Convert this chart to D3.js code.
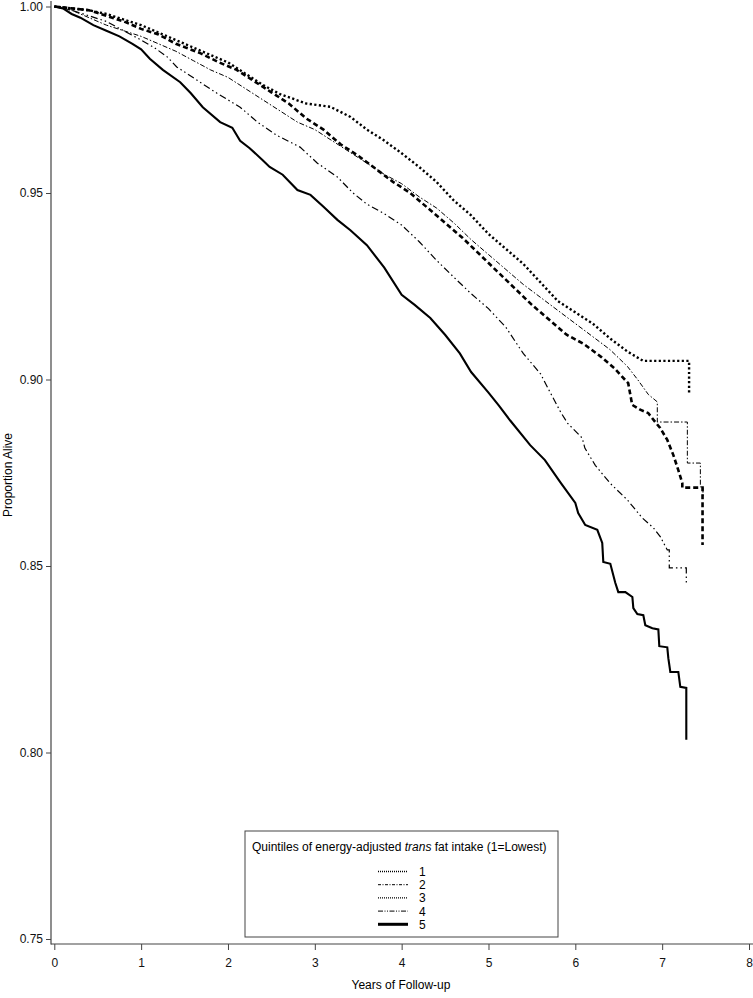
<!DOCTYPE html>
<html><head><meta charset="utf-8">
<script src="https://cdn.jsdelivr.net/npm/d3@7"></script>
<style>
body{margin:0;background:#fff;}
svg text{font-family:"Liberation Sans",Arial,sans-serif;}
</style></head>
<body><svg id="c" width="753" height="998"></svg>
<script>
// ---- data (tail steps given as corner points) ----
const seriesNames = ["1","2","3","4","5"];
const legendTitle = "Quintiles of energy-adjusted ";
const xTicks = [0,1,2,3,4,5,6,7,8];
const yTicks = [0.75,0.80,0.85,0.90,0.95,1.00];

const t1 = [0,0.2,0.4,0.6,0.8,1.0,1.2,1.4,1.6,1.8,2.0,2.2,2.4,2.6,2.72,2.9,3.18,3.41,3.6,3.79,3.98,4.2,4.4,4.6,4.8,5.0,5.2,5.4,5.6,5.8,6.0,6.2,6.4,6.6,6.78,7.31,7.31];
const v1 = [1.0,0.9995,0.999,0.998,0.9965,0.995,0.993,0.991,0.989,0.987,0.985,0.982,0.979,0.9765,0.9755,0.974,0.9731,0.9704,0.967,0.9642,0.961,0.957,0.953,0.948,0.944,0.939,0.935,0.931,0.926,0.921,0.918,0.915,0.911,0.9075,0.905,0.905,0.896];

const t2 = [0,0.2,0.4,0.6,0.8,1.0,1.2,1.4,1.6,1.8,2.0,2.2,2.4,2.6,2.8,3.0,3.2,3.4,3.6,3.8,4.0,4.2,4.4,4.6,4.8,5.0,5.2,5.4,5.6,5.8,6.0,6.2,6.4,6.6,6.72,6.84,6.944,6.944,7.29,7.29,7.44,7.44,7.47,7.47];
const v2 = [1.0,0.999,0.997,0.995,0.9935,0.992,0.990,0.988,0.9855,0.983,0.981,0.978,0.975,0.972,0.969,0.967,0.964,0.961,0.958,0.955,0.9525,0.949,0.946,0.942,0.9375,0.9335,0.9295,0.9255,0.922,0.9185,0.915,0.9115,0.908,0.9035,0.8999,0.896,0.894,0.8886,0.8886,0.8776,0.8776,0.8712,0.8712,0.8685];

const t3 = [0,0.2,0.4,0.6,0.8,1.0,1.2,1.4,1.68,1.9,2.1,2.3,2.5,2.7,2.9,3.1,3.3,3.5,3.7,3.9,4.1,4.3,4.5,4.7,4.9,5.1,5.3,5.5,5.7,5.9,6.1,6.3,6.45,6.609,6.655,6.747,6.839,6.92,6.977,7.059,7.128,7.186,7.232,7.232,7.465,7.465];
const v3 = [1.0,0.9995,0.999,0.9975,0.996,0.994,0.9925,0.990,0.9875,0.985,0.983,0.980,0.977,0.974,0.970,0.967,0.963,0.960,0.9565,0.953,0.950,0.946,0.942,0.938,0.9335,0.929,0.9245,0.920,0.916,0.912,0.9095,0.906,0.903,0.899,0.8932,0.8919,0.891,0.8886,0.887,0.8838,0.8798,0.8757,0.8722,0.871,0.871,0.8556];

const t4 = [0,0.2,0.4,0.6,0.8,1.0,1.15,1.3,1.41,1.64,1.87,2.14,2.34,2.56,2.83,3.03,3.26,3.44,3.6,3.79,4.0,4.2,4.4,4.62,4.8,5.0,5.2,5.4,5.6,5.7,5.83,5.91,6.08,6.11,6.23,6.40,6.60,6.77,6.90,6.98,7.059,7.082,7.082,7.278,7.278];
const v4 = [1.0,0.999,0.9975,0.996,0.9935,0.991,0.989,0.9865,0.9838,0.9803,0.9768,0.973,0.969,0.9655,0.9623,0.958,0.9543,0.950,0.947,0.9446,0.9414,0.937,0.932,0.927,0.923,0.919,0.914,0.907,0.9015,0.897,0.8913,0.8883,0.8843,0.8816,0.877,0.8722,0.8677,0.8629,0.8602,0.8578,0.8543,0.8543,0.8495,0.8495,0.8454];

const t5 = [0,0.1,0.2,0.3,0.45,0.6,0.75,0.9,1.0,1.1,1.25,1.45,1.57,1.71,1.91,2.05,2.14,2.25,2.4,2.48,2.63,2.8,2.95,3.1,3.26,3.41,3.6,3.8,4.0,4.15,4.33,4.5,4.67,4.8,5.0,5.12,5.25,5.48,5.65,5.826,6.0,6.033,6.114,6.253,6.31,6.322,6.403,6.46,6.495,6.576,6.657,6.668,6.714,6.783,6.806,6.887,6.956,6.967,7.059,7.071,7.094,7.186,7.209,7.278,7.278];
const v5 = [1.0,0.9995,0.998,0.997,0.995,0.9935,0.992,0.990,0.9885,0.986,0.983,0.9797,0.9768,0.973,0.969,0.9675,0.964,0.962,0.9588,0.957,0.9549,0.9508,0.9495,0.9463,0.9428,0.940,0.936,0.930,0.9227,0.920,0.9165,0.912,0.907,0.902,0.8965,0.893,0.889,0.8824,0.8784,0.8725,0.8669,0.8642,0.861,0.8597,0.8562,0.8511,0.8506,0.8455,0.843,0.843,0.8417,0.8387,0.8371,0.8368,0.8341,0.8333,0.833,0.8285,0.8282,0.8253,0.8216,0.8216,0.8176,0.8173,0.8034];

const times = [t1,t2,t3,t4,t5];
const values = [v1,v2,v3,v4,v5];

// ---- styles ----
const plotStyle = [
  {w:2.4, dash:"2.2,2.4"},
  {w:1, dash:"5,2,1.5,2"},
  {w:2.6, dash:"5,3"},
  {w:1.2, dash:"7,3,1.5,3,1.5,3"},
  {w:2.1, dash:null}
];
const legStyle = [
  {w:1.4, dash:"1,1"},
  {w:1, dash:"3,1.5,1,1.5"},
  {w:1.4, dash:"1,1"},
  {w:1, dash:"5,1.5,1,1.5,1,1.5"},
  {w:3, dash:null}
];

const svg = d3.select("#c");
const x = d3.scaleLinear().domain([0,8]).range([54.3,749]);
const y = d3.scaleLinear().domain([0.75,1.0]).range([939,6.5]);
const axisCol = "#444";

svg.append("line").attr("x1",51).attr("x2",51).attr("y1",1).attr("y2",944.5)
  .attr("stroke",axisCol).attr("stroke-width",1.2);
svg.append("line").attr("x1",51).attr("x2",753).attr("y1",944).attr("y2",944)
  .attr("stroke",axisCol).attr("stroke-width",1.2);

const ya = svg.append("g").attr("transform","translate(51,0)")
  .call(d3.axisLeft(y).tickValues(yTicks).tickFormat(d3.format(".2f")).tickSize(5).tickPadding(3));
ya.select(".domain").remove();
ya.selectAll("line").attr("stroke",axisCol);
ya.selectAll("text").attr("font-size",12).attr("fill","#111").attr("font-family","Liberation Sans, Arial, sans-serif");

const xa = svg.append("g").attr("transform","translate(0,944)")
  .call(d3.axisBottom(x).tickValues(xTicks).tickFormat(d3.format("d")).tickSize(6).tickPadding(8));
xa.select(".domain").remove();
xa.selectAll("line").attr("stroke",axisCol);
xa.selectAll("text").attr("font-size",12).attr("fill","#111").attr("font-family","Liberation Sans, Arial, sans-serif");

svg.append("text").attr("x",401).attr("y",989).attr("text-anchor","middle")
  .attr("font-size",12).text("Years of Follow-up");
svg.append("text").attr("transform","translate(12,475) rotate(-90)").attr("text-anchor","middle")
  .attr("font-size",12).text("Proportion Alive");

const line = d3.line().x(d=>x(d[0])).y(d=>y(d[1])).curve(d3.curveLinear);
seriesNames.forEach((n,i)=>{
  const pts = times[i].map((t,j)=>[t, values[i][j]]);
  svg.append("path").datum(pts).attr("d",line).attr("fill","none")
    .attr("stroke","#000").attr("stroke-width",plotStyle[i].w)
    .attr("stroke-linejoin","miter")
    .attr("stroke-dasharray",plotStyle[i].dash);
});

const lg = svg.append("g");
lg.append("rect").attr("x",245).attr("y",831).attr("width",313).attr("height",106)
  .attr("fill","#fff").attr("stroke",axisCol).attr("stroke-width",1);
const tt = lg.append("text").attr("x",252).attr("y",851).attr("font-size",12);
tt.append("tspan").text(legendTitle);
tt.append("tspan").attr("font-style","italic").text("trans");
tt.append("tspan").text(" fat intake (1=Lowest)");
seriesNames.forEach((n,i)=>{
  const cy = 871.5 + i*13.2;
  lg.append("line").attr("x1",378).attr("x2",408).attr("y1",cy).attr("y2",cy)
    .attr("stroke","#000").attr("stroke-width",legStyle[i].w).attr("stroke-dasharray",legStyle[i].dash);
  lg.append("text").attr("x",419).attr("y",cy+4.5).attr("font-size",12).text(n);
});
</script></body></html>
